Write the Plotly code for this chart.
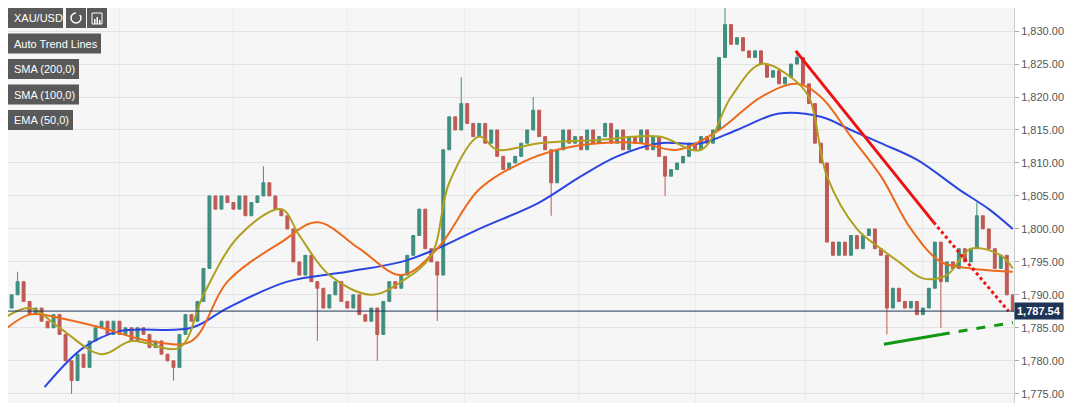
import plotly.graph_objects as go

# close prices, one bar every 6 px of the reference
closes = [1787, 1788, 1790, 1792, 1789, 1787, 1788, 1786, 1785, 1787,
          1784, 1780, 1777, 1781, 1779, 1783, 1785, 1786, 1784, 1786,
          1784, 1785, 1783, 1785, 1784, 1782, 1783, 1781, 1780, 1779,
          1784, 1787, 1786, 1789, 1794, 1805, 1803, 1805, 1804, 1803,
          1805, 1802, 1804, 1805, 1807, 1805, 1803, 1802, 1800, 1795,
          1793, 1796, 1792, 1791, 1788, 1790, 1792, 1789, 1788, 1790,
          1787, 1786, 1788, 1784, 1789, 1792, 1791, 1793, 1796, 1799,
          1803, 1797, 1795, 1793, 1812, 1817, 1815, 1819, 1816, 1814,
          1816, 1813, 1815, 1811, 1809, 1810, 1811, 1813, 1815, 1818,
          1814, 1812, 1807, 1812, 1815, 1813, 1814, 1812, 1815, 1813,
          1814, 1816, 1813, 1815, 1812, 1814, 1813, 1815, 1812, 1814,
          1811, 1808, 1809, 1810, 1811, 1813, 1812, 1814, 1813, 1815,
          1826, 1831, 1828, 1829, 1827, 1826, 1827, 1825, 1823, 1824,
          1822, 1823, 1825, 1826, 1822, 1819, 1813, 1810, 1798, 1796,
          1798, 1796, 1799, 1797, 1799, 1800, 1797, 1796, 1788, 1791,
          1789, 1788, 1789, 1787, 1788, 1791, 1798, 1792, 1795, 1794,
          1797, 1795, 1797, 1802, 1800, 1797, 1794, 1796, 1790, 1787.54]
first_open = 1786
wick_lows = {12: 1775, 29: 1777, 53: 1783, 63: 1780, 73: 1786, 92: 1802,
             111: 1805, 148: 1784, 157: 1785}
wick_highs = {3: 1793.5, 44: 1809.5, 77: 1823, 89: 1820, 121: 1834,
              133: 1827, 163: 1804}

# moving averages (bar position, price)
sma200_x = [7.5, 14, 20, 32, 38, 48, 58, 67, 73, 80, 90, 97, 103, 110, 117,
            123, 130, 137, 142, 147, 153, 160, 165, 169]
sma200_y = [1776, 1782, 1784.5, 1785, 1788, 1792, 1793.5, 1795, 1797, 1800,
            1804, 1808, 1811, 1813, 1813, 1815, 1817.5, 1817, 1815, 1813,
            1810.5, 1806, 1803, 1800]
sma100_x = [0, 5, 10, 17, 25, 32, 38, 47, 53, 60, 67, 73, 80, 87, 93, 100,
            107, 113, 120, 127, 133, 137, 142, 147, 152, 157, 162, 169]
sma100_y = [1784, 1787, 1786.5, 1785, 1783, 1783, 1792, 1798, 1801, 1797,
            1793, 1797, 1806, 1810, 1812, 1813, 1813, 1812, 1815, 1820, 1822,
            1820, 1814, 1808, 1800, 1795, 1794, 1793.5]
ema50_x = [0, 5, 10, 17, 22, 30, 34, 40, 47, 50, 55, 62, 67, 72, 75, 80, 83,
           90, 100, 110, 117, 122, 127, 132, 135, 138, 143, 147, 150, 154,
           158, 162, 167, 169]
ema50_y = [1786, 1788, 1785, 1781, 1783, 1782, 1790, 1799, 1803, 1799, 1793,
           1790, 1792, 1796, 1807, 1814, 1812, 1813, 1813.5, 1814, 1812, 1820,
           1825, 1823, 1820, 1808, 1800, 1797, 1795, 1792.5, 1793, 1797, 1796,
           1794]

red_x = [132.8, 155.8, 168.3]
red_y = [1827, 1801, 1787.5]
green_x = [147.5, 157, 169]
green_y = [1782.5, 1784, 1785.8]
last_price = 1787.54

bars = list(range(len(closes)))
opens = [first_open] + closes[:-1]
highs = [wick_highs.get(i, max(o, c)) for i, (o, c) in enumerate(zip(opens, closes))]
lows = [wick_lows.get(i, min(o, c)) for i, (o, c) in enumerate(zip(opens, closes))]

fig = go.Figure()
fig.add_candlestick(x=bars, open=opens, high=highs, low=lows, close=closes,
                    increasing=dict(line=dict(color="#3f8f80", width=1), fillcolor="#3f8f80"),
                    decreasing=dict(line=dict(color="#c05a55", width=1), fillcolor="#c05a55"),
                    whiskerwidth=0, showlegend=False, hoverinfo="skip")
fig.add_scatter(x=sma200_x, y=sma200_y, mode="lines", line=dict(color="#2b46e0", width=2, shape="spline"))
fig.add_scatter(x=sma100_x, y=sma100_y, mode="lines", line=dict(color="#ec6a1c", width=2, shape="spline"))
fig.add_scatter(x=ema50_x, y=ema50_y, mode="lines", line=dict(color="#b0a020", width=2, shape="spline"))
fig.add_scatter(x=red_x[:2], y=red_y[:2], mode="lines", line=dict(color="#ee1111", width=3))
fig.add_scatter(x=red_x[1:], y=red_y[1:], mode="lines", line=dict(color="#ee1111", width=3, dash="dot"))
fig.add_scatter(x=green_x[:2], y=green_y[:2], mode="lines", line=dict(color="#119911", width=3))
fig.add_scatter(x=green_x[1:], y=green_y[1:], mode="lines", line=dict(color="#119911", width=3, dash="dash"))

fig.add_hline(y=last_price, line=dict(color="#1f3557", width=1))
fig.add_annotation(x=1, xref="paper", y=last_price, yref="y", xanchor="left",
                   text=f"<b>{last_price:,.2f}</b>", showarrow=False, bgcolor="#1f3557",
                   font=dict(color="white", size=11, family="Arial"), borderpad=2)

W, H, OFF = 1006.0, 395.0, 8.0   # plot area size and page offset


def px(p):
    return (p - OFF) / W


def py(q):
    return 1 - (q - OFF) / H


def box(x0, x1, y0, y1, **kw):
    fig.add_shape(type="rect", xref="paper", yref="paper", x0=px(x0), x1=px(x1),
                  y0=py(y1), y1=py(y0), **kw)


labels = [("XAU/USD", "#3f7f7a", 58), ("Auto Trend Lines", "#119911", 96),
          ("SMA (200,0)", "#2b46e0", 74), ("SMA (100,0)", "#ec6a1c", 74),
          ("EMA (50,0)", "#b0a020", 68)]
for k, (txt, col, w) in enumerate(labels):
    ytop = 8 + k * 25.5
    box(5, 5 + w, ytop, ytop + 20, fillcolor="#595959", line_width=0)
    box(5, 8, ytop, ytop + 20, fillcolor=col, line_width=0)
    fig.add_annotation(x=px(12), y=py(ytop + 10), xref="paper", yref="paper",
                       text=txt, showarrow=False, xanchor="left", yanchor="middle",
                       font=dict(color="white", size=11, family="Arial"))
# toolbar icons
box(66, 86, 8, 28, fillcolor="#595959", line_width=0)
box(87, 107, 8, 28, fillcolor="#595959", line_width=0)
fig.add_shape(type="circle", xref="paper", yref="paper", x0=px(71), x1=px(81),
              y0=py(23), y1=py(13), line=dict(color="white", width=1.5))
box(76, 82, 11, 15, fillcolor="#595959", line_width=0)
box(92, 102, 13, 24, line=dict(color="white", width=1))
for bx, bt in ((94, 19), (96.5, 17), (99, 20)):
    box(bx, bx + 1.5, bt, 24, fillcolor="white", line_width=0)

fig.update_layout(
    width=1072, height=395, margin=dict(l=0, r=66, t=0, b=0),
    paper_bgcolor="white", plot_bgcolor="#f6f6f6", showlegend=False,
    xaxis=dict(range=[1.4, 169.2], rangeslider=dict(visible=False), showticklabels=False,
               tickvals=[20, 39, 58, 77.5, 96.5, 116, 134.5, 154], gridcolor="#ebebeb",
               zeroline=False, showline=True, linecolor="#cccccc"),
    yaxis=dict(side="right", range=[1773.6, 1833.5], dtick=5, tickformat=",.2f",
               gridcolor="#e3e3e3", zeroline=False, ticks="outside", ticklen=4,
               tickcolor="#aaaaaa", showline=True, linecolor="#cccccc", automargin=False,
               tickfont=dict(color="#555555", size=11, family="Arial")),
)
fig.write_html("out.html")
